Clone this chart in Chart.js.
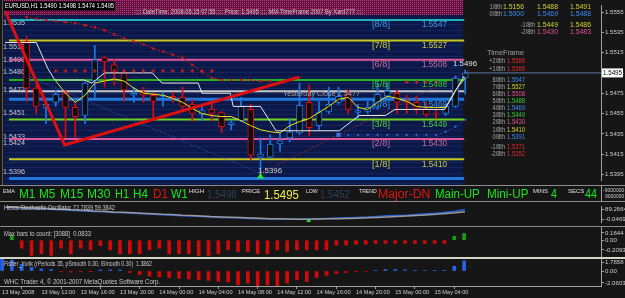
<!DOCTYPE html>
<html>
<head>
<meta charset="utf-8">
<script src="https://cdn.jsdelivr.net/npm/chart.js@4.4.0/dist/chart.umd.min.js"></script>
<style>
  html, body { margin: 0; padding: 0; width: 625px; height: 298px; overflow: hidden; background: #161616; position: relative; }
  canvas { position: absolute; left: 0; }
  .t { position: absolute; white-space: nowrap; line-height: 1; transform-origin: 0 50%; font-family: "Liberation Sans", Arial, sans-serif; }
  .sep { position: absolute; left: 0; width: 625px; height: 1px; background: #8c8c8c; }
</style>
</head>
<body>
<canvas id="main" width="625" height="185" style="top:0"></canvas>
<canvas id="stoch" width="625" height="24" style="top:202px"></canvas>
<canvas id="maxbars" width="625" height="30" style="top:227px"></canvas>
<canvas id="fisher" width="625" height="40" style="top:258px"></canvas>
<div class="sep" style="top:185px"></div>
<div class="sep" style="top:201px"></div>
<div class="sep" style="top:226px"></div>
<div class="sep" style="top:257px;height:2px;background:#d4d4c4"></div>
<div style="position:absolute;left:601px;top:185px;width:1px;height:17px;background:#a0a0a0"></div>
<div style="position:absolute;left:2px;top:0;width:1px;height:185px;background:#5a5a5a"></div>
<script>
// ---- price candles, EURUSD H1, bar 0 = 13 May 10:00 ----
const opens  = [1.5526,1.5480,1.5461,1.5466,1.5475,1.5461,1.5453,1.5487,1.5510,1.5503,1.5495,1.5473,1.5476,1.5473,1.5472,1.5472,1.5471,1.5464,1.5454,1.5459,1.5456,1.5444,1.5448,1.5459,1.5412,1.5412,1.5425,1.5431,1.5436,1.5466,1.5443,1.5457,1.5466,1.5474,1.5456,1.5457,1.5461,1.5472,1.5475,1.5467,1.5466,1.5459,1.5455,1.5455,1.5462,1.5490];
const highs  = [1.5531,1.5483,1.5469,1.5478,1.5478,1.5466,1.5486,1.5522,1.5511,1.5508,1.5497,1.5481,1.5481,1.5475,1.5476,1.5476,1.5481,1.5469,1.5462,1.5467,1.5457,1.5448,1.5471,1.5464,1.5431,1.5434,1.5436,1.5450,1.5485,1.5483,1.5467,1.5481,1.5481,1.5478,1.5464,1.5467,1.5485,1.5485,1.5478,1.5473,1.5472,1.5466,1.5459,1.5464,1.5492,1.5498];
const lows   = [1.5467,1.5455,1.5445,1.5462,1.5431,1.5431,1.5445,1.5471,1.5481,1.5483,1.5467,1.5466,1.5466,1.5450,1.5462,1.5466,1.5459,1.5447,1.5448,1.5448,1.5436,1.5439,1.5447,1.5409,1.5396,1.5411,1.5418,1.5427,1.5434,1.5433,1.5439,1.5455,1.5464,1.5455,1.5450,1.5455,1.5459,1.5469,1.5455,1.5455,1.5455,1.5452,1.5450,1.5453,1.5461,1.5474];
const closes = [1.5480,1.5462,1.5464,1.5474,1.5461,1.5452,1.5485,1.5508,1.5506,1.5495,1.5478,1.5475,1.5473,1.5467,1.5473,1.5470,1.5462,1.5455,1.5458,1.5455,1.5442,1.5446,1.5462,1.5414,1.5415,1.5425,1.5428,1.5437,1.5463,1.5441,1.5456,1.5464,1.5472,1.5459,1.5458,1.5461,1.5474,1.5477,1.5466,1.5466,1.5460,1.5454,1.5454,1.5462,1.5490,1.5495];

// Murrey math levels 8/8 .. 0/8
const murreyNames  = ['[8/8]','[7/8]','[6/8]','[5/8]','[4/8]','[3/8]','[2/8]','[1/8]','[0/8]'];
const murreyLevels = [1.5547,1.5527,1.5508,1.5488,1.5469,1.5449,1.5430,1.5410,1.5391];
const murreyColors = ['#22b2bc','#c8c81e','#e0589a','#22b422','#2278dc','#6ed21e','#e0589a','#c8c81e','#2278dc'];
const murreyText   = ['#3c96dc','#c8c83c','#c86e9b','#32c832','#3c96dc','#50c83c','#c86e9b','#c8c83c','#3c96dc'];
const yesterdayClose = 1.5477;

// indicator lines on the price window
const whiteX = [-2.2,1.0,2.2,2.9,5.9,6.7,8.0,12.9,13.9,17.6,18.0,20.9,21.2,24.0,25.6,32.1,34.1,36.8,37.8,42.9,44.9];
const whiteY = [1.5525,1.5525,1.5499,1.5488,1.5488,1.5485,1.5495,1.5495,1.5485,1.5485,1.5475,1.5475,1.5462,1.5462,1.5438,1.5438,1.5453,1.5453,1.5459,1.5459,1.5492];
const yellowStart = 3;
const yellowY = [1.5487,1.5475,1.5466,1.5473,1.5485,1.5487,1.5489,1.5487,1.5480,1.5475,1.5474,1.5473,1.5470,1.5466,1.5460,1.5455,1.5453,1.5452,1.5452,1.5448,1.5443,1.5439,1.5437,1.5436,1.5443,1.5447,1.5450,1.5456,1.5462,1.5469,1.5471,1.5461,1.5459,1.5466,1.5472,1.5470,1.5467,1.5462,1.5461,1.5461,1.5461,1.5478,1.5490];
const redCurveY = [1.5550,1.5548,1.5547,1.5546,1.5545,1.5544,1.5542,1.5540,1.5537,1.5533,1.5529,1.5526,1.5523,1.5519,1.5516,1.5513,1.5510,1.5503,1.5496,1.5490,1.5488,1.5488,1.5488,1.5488,1.5487,1.5487];
const redPlusX = [3,4,5,6,7,8,9,10,11,12,13,14,15,16,17,18,19,39,40,41,42];
const redPlusY = [1.5497,1.5497,1.5497,1.5497,1.5497,1.5497,1.5497,1.5497,1.5497,1.5497,1.5497,1.5497,1.5497,1.5497,1.5497,1.5497,1.5497,1.5486,1.5486,1.5486,1.5486];
const blueDotX = [32,33,34,35,36,37,38,39,40,41,42,43,44,45];
const blueDotY = [1.5434,1.5434,1.5434,1.5434,1.5434,1.5434,1.5434,1.5434,1.5434,1.5434,1.5434,1.5437,1.5442,1.5449];
const zigzagX = [-2.2,3.9,28.0];
const zigzagY = [1.5556,1.5424,1.5491];
const trendBlueX = [-2.2,24.0], trendBlueY = [1.5501,1.5396];
const trendRedX = [24.0,45.5],  trendRedY = [1.5396,1.5498];
const arrowX = [24], arrowY = [1.5393];
const bidPrice = 1.5495;

// price axis
const priceTicks = [1.5395,1.5415,1.5435,1.5455,1.5475,1.5495,1.5515,1.5535,1.5555];

// Hercs stochastic (bar -2 .. 45)
const stochStart = -2;
const stochBlue = [84.5,82.0,79.6,77.6,75.7,71.8,69.9,66.0,64.0,60.1,58.2,54.3,52.4,50.4,46.6,44.6,40.7,38.8,34.9,33.0,31.0,27.1,25.2,23.3,21.3,19.4,17.4,15.5,15.5,13.6,13.6,15.5,17.4,19.4,21.3,23.3,25.2,27.1,31.0,34.9,36.8,38.8,42.7,46.6,50.4,56.3,62.1,72.8];
const stochGrey = [88,85.5,83,81,79,75,73,69.5,67.5,63.5,61.5,57.5,55.5,53.5,49.5,47.5,43.5,42,38,36,34,30,28,26,24,22,20,18,17,16,15,15,16,17,18,19.5,21,23,25,28,31,33,36,40,44,48,53,59.4];
const stochArrowX = [29], stochArrowY = [5.7];
const stochTickText = ['89.2664','-0.0469'];

// Max bars histogram (bar -1 .. 45)
const maxStart = -1;
const maxBars = [0.06,-0.10,-0.19,-0.17,-0.19,-0.10,-0.17,-0.10,-0.12,-0.07,-0.12,-0.17,-0.17,-0.17,-0.12,-0.10,-0.17,-0.17,-0.17,-0.19,-0.19,-0.17,-0.12,-0.14,-0.14,-0.17,-0.17,-0.12,-0.14,-0.12,-0.12,-0.12,-0.12,-0.06,-0.06,-0.05,-0.05,-0.04,-0.04,-0.04,-0.04,-0.04,-0.04,-0.04,-0.04,0.05,0.0833];
const maxTickText = ['0.1644','0.00','-0.2093'];

// Fisher Yurik histogram (bar -2 .. 45)
const fisherStart = -2;
const fisher = [1.64,1.50,0.93,0.50,0.28,0.20,-0.10,-0.15,-0.10,-0.10,0.15,0.15,0.15,-0.20,-0.50,-0.70,-0.80,-0.90,-1.00,-1.10,-1.20,-1.30,-1.40,-1.50,-1.90,-1.65,-2.05,-1.90,-2.05,-1.65,-1.20,-1.45,-0.90,-0.60,-0.35,-0.20,-0.10,-0.07,0.10,0.20,0.20,0.15,0.10,0.05,0.05,0.10,0.65,1.3862];
const fisherTickText = ['1.7858','0.00','-2.0603'];

// time axis
const timeTickIdx = [-2,2,6,10,14,18,22,26,30,34,38,42];
const timeLabels = ['13 May 2008','13 May 12:00','13 May 16:00','13 May 20:00','14 May 00:00','14 May 04:00','14 May 08:00','14 May 12:00','14 May 16:00','14 May 20:00','15 May 00:00','15 May 04:00'];

// ---------------------------------------------------------------
const FONT = '"Liberation Sans", Arial, sans-serif';
const BULL = '#2078e6', BEAR = '#de0c0c';
const X_MIN = -2.21, X_MAX = 58.93;
Chart.defaults.font.family = FONT;
Chart.defaults.animation = false;
Chart.defaults.responsive = false;
Chart.defaults.events = [];
Chart.defaults.plugins.legend.display = false;
Chart.defaults.plugins.tooltip.enabled = false;

function paintText(ctx, it) {
  ctx.save();
  ctx.font = it.s + 'px ' + FONT;
  ctx.textBaseline = 'middle';
  const mw = ctx.measureText(it.t).width;
  const sx = it.w ? it.w / mw : (it.sx || 1);
  const w = mw * sx;
  const left = it.a === 'right' ? it.x - w : it.x;
  if (it.bg) { ctx.fillStyle = it.bg; ctx.fillRect(left - 1, it.y - it.s / 2 - 1, w + 2, it.s + 2); }
  ctx.translate(left, it.y);
  ctx.scale(sx, 1);
  ctx.fillStyle = it.c;
  ctx.fillText(it.t, 0, 0);
  ctx.restore();
}

function xAxis() {
  return { type: 'linear', min: X_MIN, max: X_MAX, offset: false, display: false };
}
function yAxis(min, max, tickVals, tickText) {
  return {
    type: 'linear', position: 'right', min: min, max: max, bounds: 'data',
    grid: { display: true, drawOnChartArea: false, drawTicks: true, tickLength: 3, color: '#a0a0a0' },
    border: { display: true, color: '#a0a0a0' },
    ticks: { autoSkip: false, padding: 1, color: '#cccccc', font: { size: 6.1 }, callback: (v, i) => tickText[i] },
    afterBuildTicks: s => { s.ticks = tickVals.map(v => ({ value: v })); },
    afterFit: s => { s.width = 24; s.paddingTop = 0; s.paddingBottom = 0; }
  };
}
const lineDs = (xs, ys, color, width, extra) => Object.assign({
  type: 'line', data: xs.map((x, i) => ({ x: x, y: ys[i] })), borderColor: color,
  borderWidth: width, pointRadius: 0, tension: 0, fill: false
}, extra || {});

// ---------------- main price window ----------------
const candleCol = closes.map((c, i) => c >= opens[i] ? BULL : BEAR);
const bandPattern = (() => {
  const pc = document.createElement('canvas'); pc.width = 2; pc.height = 2;
  const p = pc.getContext('2d');
  p.fillStyle = '#62123f'; p.fillRect(0, 0, 2, 2);
  p.fillStyle = '#b8387a'; p.fillRect(0, 0, 1, 1);
  return p;
})();

const leftLabels = [['1.5535',23],['1.5513',47],['1.5499',60],['1.5486',72],['1.5472',90],['1.5451',113],['1.5433',137],['1.5424',143],['1.5396',172]];
const topRows = [
  ['1/8th', 502, 7, [['1.5156','#d2d232',503],['1.5488','#d2d232',537],['1.5491','#d2d232',570]]],
  ['0/8th', 502, 14, [['1.5000','#3c8cf0',503],['1.5469','#3c8cf0',537],['1.5488','#3c8cf0',570]]],
  ['-1/8th', 535, 25, [['1.5449','#d2d232',537],['1.5486','#d2d232',570]]],
  ['-2/8th', 535, 32, [['1.5430','#e05090',537],['1.5483','#e05090',570]]]
];
const tfRows = [['+2/8th',61,'1.5586','#e02828'],['+1/8th',69,'1.5566','#e02828'],['8/8th',80,'1.5547','#3c8cf0'],['7/8th',87,'1.5527','#d2d232'],['6/8th',94,'1.5508','#e05090'],['5/8th',101.5,'1.5488','#32c832'],['4/8th',108.5,'1.5469','#3c8cf0'],['3/8th',115.5,'1.5449','#32c832'],['2/8th',122.5,'1.5430','#e05090'],['1/8th',130,'1.5410','#d2d232'],['0/8th',137.5,'1.5391','#3c8cf0'],['-1/8th',147,'1.5371','#e02828'],['-2/8th',154.5,'1.5352','#e02828']];

const mainLayer = {
  id: 'mainLayer',
  beforeDraw(c) {
    const ctx = c.ctx;
    ctx.save();
    ctx.fillStyle = '#0b1848'; ctx.fillRect(4, 15, 459, 170);
    ctx.fillStyle = '#14245e';
    for (let y = 19; y < 185; y += 5.3) ctx.fillRect(4, Math.round(y), 459, 1);
    ctx.fillStyle = ctx.createPattern(bandPattern.canvas, 'repeat');
    ctx.fillRect(4, 0, 459, 15);
    ctx.restore();
  },
  beforeDatasetsDraw(c) {
    leftLabels.forEach(l => paintText(c.ctx, { t: l[0], x: 3, y: l[1], s: 7, w: 22, c: '#c8c8c8' }));
  },
  afterDraw(c) {
    const ctx = c.ctx, ys = c.scales.y;
    paintText(ctx, { t: 'EURUSD,H1 1.5490 1.5498 1.5474 1.5495', x: 5, y: 6, s: 7, w: 109, c: '#ffffff', bg: '#000000' });
    paintText(ctx, { t: ':::: DateTime: 2008.05.15 07:55 :::: Price: 1.5495 :::: MM-TimeFrame 2007 By Xard777 ::::', x: 135, y: 12.5, s: 7, w: 228, c: '#c8c8c8' });
    for (let k = 0; k < 8; k++) {
      const y = ys.getPixelForValue(murreyLevels[k]) + 5;
      paintText(ctx, { t: murreyNames[k], x: 372, y: y, s: 8.5, w: 18, c: murreyText[k] });
      paintText(ctx, { t: murreyLevels[k].toFixed(4), x: 422, y: y, s: 8.5, w: 25, c: murreyText[k] });
    }
    paintText(ctx, { t: 'Yesterday Close 1.5477', x: 283, y: 94, s: 7, w: 77, c: '#a0a0a0' });
    paintText(ctx, { t: '1.5396', x: 258, y: 171, s: 8, w: 24, c: '#d0d0d0' });
    paintText(ctx, { t: '1.5496', x: 453, y: 64, s: 8, w: 24, c: '#e0e0e0' });
    topRows.forEach(r => {
      paintText(ctx, { t: r[0], x: r[1], y: r[2], s: 7, sx: 0.8, a: 'right', c: '#a8a8a8' });
      r[3].forEach(v => paintText(ctx, { t: v[0], x: v[2], y: r[2], s: 7, w: 21, c: v[1] }));
    });
    paintText(ctx, { t: 'TimeFrame', x: 487, y: 53, s: 8, w: 37, c: '#a0a0a0' });
    tfRows.forEach(r => {
      paintText(ctx, { t: r[0], x: 505, y: r[1], s: 7, sx: 0.8, a: 'right', c: '#a8a8a8' });
      paintText(ctx, { t: r[2], x: 507, y: r[1], s: 7, w: 18, c: r[3] });
    });
    paintText(ctx, { t: bidPrice.toFixed(4), x: 603, y: ys.getPixelForValue(bidPrice), s: 7, w: 19, c: '#000000', bg: '#ffffff' });
  }
};

const mainDatasets = [];
murreyLevels.forEach((lv, k) => mainDatasets.push(lineDs([-1.8, 44.9], [lv, lv], murreyColors[k], (k === 4 || k === 8) ? 3 : 2, { order: 10 })));
mainDatasets.push(lineDs([-1.8, 44.9], [yesterdayClose, yesterdayClose], '#c8c8c8', 2, { order: 10 }));
mainDatasets.push(lineDs(trendBlueX, trendBlueY, '#3a5ac8', 1, { order: 9, borderDash: [1, 2] }));
mainDatasets.push(lineDs(trendRedX, trendRedY, '#c83232', 1, { order: 9, borderDash: [1, 2] }));
mainDatasets.push(lineDs(redCurveY.map((v, i) => i), redCurveY, '#d01818', 1, { order: 8, borderDash: [2, 2], pointRadius: 1.6, pointStyle: 'rect', pointBackgroundColor: '#d01818', pointBorderWidth: 0 }));
mainDatasets.push({
  type: 'bar', order: 6, grouped: false, barThickness: 1,
  data: lows.map((l, i) => ({ x: i, y: [l, highs[i]] })),
  backgroundColor: candleCol, borderWidth: 0
});
mainDatasets.push({
  type: 'bar', order: 5, grouped: false, barThickness: 6,
  data: opens.map((o, i) => ({ x: i, y: [o, closes[i]] })),
  backgroundColor: '#0e0e0e', borderColor: candleCol, borderWidth: 1, borderSkipped: false
});
mainDatasets.push(lineDs(whiteX, whiteY, '#e8e8e8', 1, { order: 4 }));
mainDatasets.push(lineDs(yellowY.map((v, i) => i + yellowStart), yellowY, '#e6e61e', 1, { order: 4 }));
mainDatasets.push(lineDs(zigzagX, zigzagY, '#dc1010', 3, { order: 3 }));
mainDatasets.push(lineDs(blueDotX, blueDotY, '#3264d2', 1, { order: 2, borderDash: [1, 2], pointRadius: blueDotX.map((v, i) => i === 0 ? 3 : 1.3), pointStyle: 'rect', pointBackgroundColor: '#3c6ee0', pointBorderWidth: 0 }));
mainDatasets.push(lineDs(redPlusX, redPlusY, 'rgba(0,0,0,0)', 0, { order: 2, showLine: false, pointRadius: 2, pointStyle: 'cross', pointBorderColor: '#e01e1e', pointBorderWidth: 1 }));
mainDatasets.push(lineDs(arrowX, arrowY, 'rgba(0,0,0,0)', 0, { order: 1, showLine: false, pointRadius: 4, pointStyle: 'triangle', pointBackgroundColor: '#28e628', pointBorderColor: '#28e628' }));
mainDatasets.push(lineDs([44.9, X_MAX], [bidPrice, bidPrice], '#5a78a8', 1, { order: 1 }));

new Chart(document.getElementById('main'), {
  type: 'bar',
  data: { datasets: mainDatasets },
  options: {
    layout: { padding: 0 },
    scales: {
      x: xAxis(),
      y: yAxis(1.53895, 1.55619, priceTicks, priceTicks.map(v => v.toFixed(4)))
    }
  },
  plugins: [mainLayer]
});

// ---------------- info strip (text indicator) ----------------
function addSpan(t, x, y, size, color, w) {
  const s = document.createElement('span');
  s.className = 't'; s.textContent = t;
  s.style.left = x + 'px'; s.style.top = y + 'px'; s.style.fontSize = size + 'px'; s.style.color = color;
  document.body.appendChild(s);
  s.style.transform = 'translateY(-50%) scaleX(' + (w / s.offsetWidth) + ')';
}
const GREEN = '#1ee61e';
[['EMA',3,191,6,'#e0e0e0',12],['M1',19,193.5,12.5,GREEN,16],['M5',39,193.5,12.5,GREEN,16],['M15',60,193.5,12.5,GREEN,23],
 ['M30',87,193.5,12.5,GREEN,23],['H1',115,193.5,12.5,GREEN,14],['H4',133,193.5,12.5,GREEN,15],['D1',153,193.5,12.5,'#e01414',15],
 ['W1',171,193.5,12.5,GREEN,17],['HIGH',189,191,6,'#e0e0e0',15],['1.5498',207,194,11,'#2a4262',30],['PRICE',242,191,6,'#e0e0e0',18],
 ['1.5495',264,193.5,13,'#f0f03c',35],['LOW',306,191,6,'#e0e0e0',12],['1.5452',320,194,11,'#2a4262',30],['TREND',359,191,6,'#e0e0e0',18],
 ['Major-DN',378,193.5,12.5,'#e01414',52],['Main-UP',435,193.5,12.5,GREEN,45],['Mini-UP',487,193.5,12.5,GREEN,41],
 ['MINS',533,191,6,'#e0e0e0',15],['4',551,193.5,12.5,GREEN,6],['SECS',568,191,6,'#e0e0e0',16],['44',585,193.5,12.5,GREEN,12],
 ['-9000000',603,190,6,'#c8c8c8',21],['9000000',605,196,6,'#c8c8c8',19]
].forEach(a => addSpan(a[0], a[1], a[2], a[3], a[4], a[5]));

// ---------------- stochastic window ----------------
const textLayer = items => ({ id: 'txt', afterDatasetsDraw(c) { items.forEach(it => paintText(c.ctx, it)); } });

new Chart(document.getElementById('stoch'), {
  type: 'line',
  data: { datasets: [
    lineDs(stochGrey.map((v, i) => i + stochStart), stochGrey, '#9a9a9a', 1.5),
    lineDs(stochBlue.map((v, i) => i + stochStart), stochBlue, '#2060d8', 1.5),
    lineDs(stochArrowX, stochArrowY, 'rgba(0,0,0,0)', 0, { showLine: false, pointRadius: 3, pointStyle: 'triangle', pointBackgroundColor: '#28e628', pointBorderColor: '#28e628' })
  ] },
  options: { layout: { padding: 0 }, scales: { x: xAxis(), y: yAxis(-2, 93, [72.4, 13.7], stochTickText) } },
  plugins: [textLayer([{ t: 'Hercs Stochastic Oscillator 72.7839 59.3842', x: 4, y: 6, s: 7, w: 111, c: '#c8c8c8' }])]
});

// ---------------- max bars window ----------------
new Chart(document.getElementById('maxbars'), {
  type: 'bar',
  data: { datasets: [{
    grouped: false, barThickness: 3,
    data: maxBars.map((v, i) => ({ x: i + maxStart, y: v })),
    backgroundColor: maxBars.map(v => v >= 0 ? '#14a014' : '#d00a0a')
  }] },
  options: { layout: { padding: 0 }, scales: { x: xAxis(), y: yAxis(-0.2093, 0.1644, [0.0897, 0, -0.122], maxTickText) } },
  plugins: [textLayer([{ t: 'Max bars to count: [3088]  0.0833', x: 4, y: 7, s: 7, w: 87, c: '#c8c8c8' }])]
});

// ---------------- fisher window + time axis ----------------
const fisherY = yAxis(-2.0603, 1.7858, [1.236, 0, -1.648], fisherTickText);
new Chart(document.getElementById('fisher'), {
  type: 'bar',
  data: { datasets: [{
    grouped: false, barThickness: 3,
    data: fisher.map((v, i) => ({ x: i + fisherStart, y: v })),
    backgroundColor: fisher.map(v => v >= 0 ? '#2464e6' : '#d00a0a')
  }] },
  options: {
    layout: { padding: 0 },
    scales: {
      x: {
        type: 'linear', min: X_MIN, max: X_MAX, offset: false, position: 'bottom',
        grid: { display: true, drawOnChartArea: false, drawTicks: true, tickLength: 3, color: '#a0a0a0' },
        border: { display: true, color: '#a0a0a0' },
        ticks: { autoSkip: false, maxRotation: 0, minRotation: 0, align: 'start', padding: 0, color: '#cccccc', font: { size: 5.6 }, callback: (v, i) => timeLabels[i] },
        afterBuildTicks: s => { s.ticks = timeTickIdx.map(v => ({ value: v })); },
        afterFit: s => { s.height = 12; s.paddingLeft = 0; s.paddingRight = 0; }
      },
      y: fisherY
    }
  },
  plugins: [textLayer([
    { t: 'Fisher_Yurik (rPeriods 35, pSmooth 0.30, iSmooth 0.30)  1.3862', x: 4, y: 6, s: 7, w: 148, c: '#c8c8c8' },
    { t: 'WHC Trader 4, \u00a9 2001-2007 MetaQuotes Software Corp.', x: 4, y: 24, s: 7, w: 156, c: '#c8c8c8' }
  ])]
});
</script>
</body>
</html>
